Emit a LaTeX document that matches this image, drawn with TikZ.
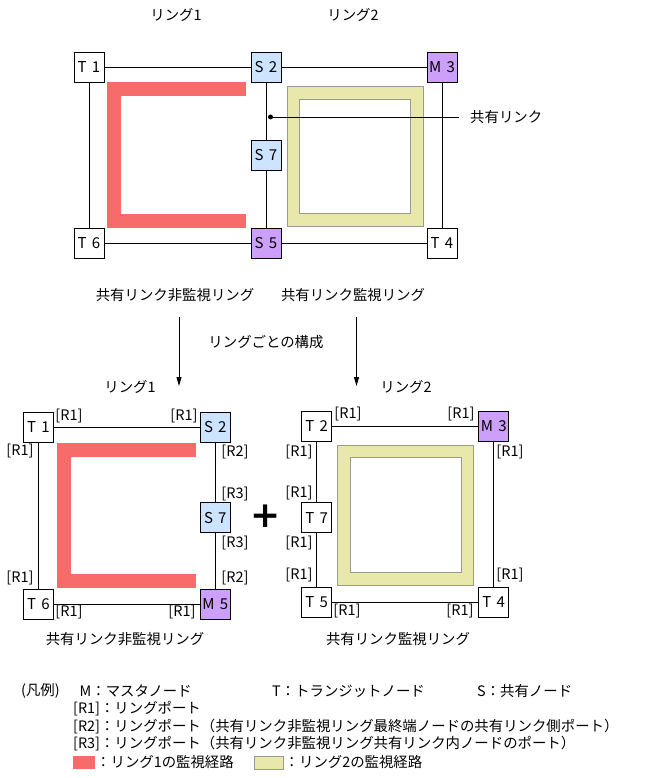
\documentclass[tikz,border=0pt]{standalone}
\usepackage{fontspec}
\setmainfont{Noto Sans CJK JP}
\newfontfamily\plusfont{DejaVu Sans}
\usetikzlibrary{arrows.meta,positioning}
\definecolor{Shared}{HTML}{CCE4FF}
\definecolor{Master}{HTML}{CC9FF8}
\definecolor{PathOne}{HTML}{F86B6B}
\definecolor{PathTwo}{HTML}{E8E8AA}
\definecolor{PathEdge}{HTML}{999999}
\tikzset{
  jp/.style={font=\fontsize{14.4}{16}\selectfont,inner sep=0pt},
  nodebox/.style={draw=black,fill=white,line width=.8pt,minimum size=30pt,inner sep=0pt,font=\fontsize{15}{16}\selectfont},
  sharedbox/.style={nodebox,fill=Shared},
  masterbox/.style={nodebox,fill=Master},
  port/.style={font=\fontsize{14.5}{15}\selectfont,inner sep=0pt},
  link/.style={draw=black,line width=.8pt},
  ringone/.style={draw=PathOne,line width=14pt,line join=miter},
  ringtwo/.style={draw=PathEdge,fill=PathTwo,line width=.8pt},
  hole/.style={draw=PathEdge,fill=white,line width=.8pt},
  flow/.style={-{Triangle[length=9pt,width=5pt]},draw=black,line width=.8pt}
}
\newcommand{\nd}[2]{#1\hspace{.35em}#2}
\begin{document}
\begin{tikzpicture}[x=1pt,y=-1pt]
      \useasboundingbox (0,0) rectangle (653,778);
      \node[jp] (ttl1) at (176,15) {リング1};
      \node[jp] (ttl2) at (353,15) {リング2};
      \draw[ringone] (245.7,89) -- (114,89) -- (114,221.4) -- (245.7,221.4);
      \draw[ringtwo] (287.3,86.7) rectangle (423.3,226.7);
      \draw[hole] (299.3,99.3) rectangle (410.3,213.3);
      \node[nodebox] (t1) at (89,67) {\nd T1};
      \node[sharedbox] (s2) at (266,67) {\nd S2};
      \node[masterbox] (m3) at (442,67) {\nd M3};
      \node[sharedbox] (s7) at (266,155) {\nd S7};
      \node[nodebox] (t6) at (89,243) {\nd T6};
      \node[masterbox] (s5) at (266,243) {\nd S5};
      \node[nodebox] (t4) at (442,243) {\nd T4};
      \draw[link] (t1) -- (s2);
      \draw[link] (s2) -- (m3);
      \draw[link] (t1) -- (t6);
      \draw[link] (s2) -- (s7);
      \draw[link] (s7) -- (s5);
      \draw[link] (m3) -- (t4);
      \draw[link] (t6) -- (s5);
      \draw[link] (s5) -- (t4);
      \node[circle,fill=black,inner sep=0pt,minimum size=5pt] (dot) at (270.5,117) {};
      \node[jp,anchor=west] (sharedlbl) at (470,117) {共有リンク};
      \draw[link] (dot.center) -- ([xshift=-11pt]sharedlbl.west);
      \node[jp] (cap1) at (175,295) {共有リンク非監視リング};
      \node[jp] (cap2) at (353,295) {共有リンク監視リング};
      \coordinate (fa1) at (179,317);
      \coordinate (fb1) at (179,386);
      \coordinate (fa2) at (356.5,317);
      \coordinate (fb2) at (356.5,386);
      \draw[flow] (fa1) -- (fb1);
      \draw[flow] (fa2) -- (fb2);
      \node[jp] (split) at (266,342) {リングごとの構成};
      \node[jp] (sub1) at (130,387) {リング1};
      \node[jp] (sub2) at (406,387) {リング2};
      \draw[ringone] (196,449.7) -- (64.2,449.7) -- (64.2,581.3) -- (196,581.3);
      \node[nodebox] (lt1) at (38.3,427.3) {\nd T1};
      \node[sharedbox] (ls2) at (215.3,427.3) {\nd S2};
      \node[sharedbox] (ls7) at (215.3,517.8) {\nd S7};
      \node[nodebox] (lt6) at (38.3,604) {\nd T6};
      \node[masterbox] (lm5) at (215.3,604) {\nd M5};
      \draw[link] (lt1) -- (ls2);
      \draw[link] (lt1) -- (lt6);
      \draw[link] (ls2) -- (ls7);
      \draw[link] (ls7) -- (lm5);
      \draw[link] (lt6) -- (lm5);
      \node[port] (lp1) at (69,416) {[R1]};
      \node[port] (lp2) at (184,416) {[R1]};
      \node[port] (lp3) at (20,451) {[R1]};
      \node[port] (lp4) at (235,452) {[R2]};
      \node[port] (lp5) at (235,494) {[R3]};
      \node[port] (lp6) at (235,543) {[R3]};
      \node[port] (lp7) at (235,578) {[R2]};
      \node[port] (lp8) at (20,578) {[R1]};
      \node[port] (lp9) at (69,612) {[R1]};
      \node[port] (lp10) at (182,612) {[R1]};
      \node[font=\plusfont\bfseries\fontsize{36}{36}\selectfont,inner sep=0pt] (plus) at (265.5,516) {+};
      \draw[ringtwo] (337.3,445.3) rectangle (473.3,585);
      \draw[hole] (350,457.3) rectangle (461.7,572.7);
      \node[nodebox] (rt2) at (316.7,426) {\nd T2};
      \node[masterbox] (rm3) at (493.7,426) {\nd M3};
      \node[nodebox] (rt7) at (316.7,517.7) {\nd T7};
      \node[nodebox] (rt5) at (316.7,602) {\nd T5};
      \node[nodebox] (rt4) at (493.7,602) {\nd T4};
      \draw[link] (rt2) -- (rm3);
      \draw[link] (rt2) -- (rt7);
      \draw[link] (rt7) -- (rt5);
      \draw[link] (rm3) -- (rt4);
      \draw[link] (rt5) -- (rt4);
      \node[port] (rp1) at (348,414) {[R1]};
      \node[port] (rp2) at (461,414) {[R1]};
      \node[port] (rp3) at (299,452) {[R1]};
      \node[port] (rp4) at (299,493) {[R1]};
      \node[port] (rp5) at (299,543) {[R1]};
      \node[port] (rp6) at (299,575) {[R1]};
      \node[port] (rp7) at (510,452) {[R1]};
      \node[port] (rp8) at (510,575) {[R1]};
      \node[port] (rp9) at (347,611) {[R1]};
      \node[port] (rp10) at (460,611) {[R1]};
      \node[jp] (cap3) at (125,639) {共有リンク非監視リング};
      \node[jp] (cap4) at (398,639) {共有リンク監視リング};
      \node[jp,anchor=west] (leg0) at (21,691) {(凡例)};
      \node[jp,anchor=west] (legm) at (79.5,691) {M：マスタノード};
      \node[jp,anchor=west] (legt) at (272,691) {T：トランジットノード};
      \node[jp,anchor=west] (legs) at (477,691) {S：共有ノード};
      \node[jp,anchor=west] (legr1) at (73,709) {[R1]：リングポート};
      \node[jp,anchor=west] (legr2) at (73,726.7) {[R2]：リングポート（共有リンク非監視リング最終端ノードの共有リンク側ポート）};
      \node[jp,anchor=west] (legr3) at (73,743.3) {[R3]：リングポート（共有リンク非監視リング共有リンク内ノードのポート）};
      \fill[PathOne] (73,756) rectangle (95.4,769);
      \node[jp,anchor=west] (legp1) at (96,762) {：リング1の監視経路};
      \draw[ringtwo] (254,756) rectangle (283,769);
      \node[jp,anchor=west] (legp2) at (284.5,762) {：リング2の監視経路};
    \end{tikzpicture}
\end{document}
